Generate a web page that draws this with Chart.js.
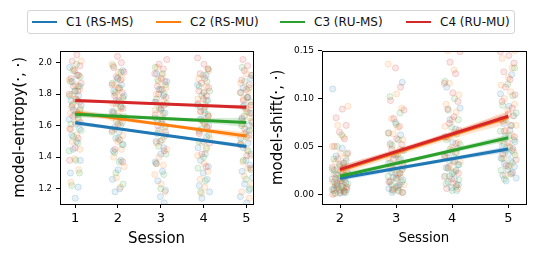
<!DOCTYPE html>
<html lang="en">
<head>
  <meta charset="UTF-8">
  <title>Model entropy and shift by session</title>
  <style>
    html, body {
      margin: 0;
      padding: 0;
      background: #fff;
    }
    body {
      width: 548px;
      height: 258px;
      position: relative;
      overflow: hidden;
      font-family: "DejaVu Sans", sans-serif;
    }
    #legend {
      position: absolute;
      left: 27px;
      top: 10px;
      width: 488px;
      height: 24px;
      box-sizing: border-box;
      border: 1px solid #d4d4d4;
      border-radius: 3px;
    }
    #legend .item {
      position: absolute;
      top: 0;
      height: 100%;
      display: flex;
      align-items: center;
      font-size: 12px;
      color: #111;
      white-space: nowrap;
    }
    #legend .swatch {
      display: inline-block;
      width: 25px;
      height: 2px;
      margin-right: 9px;
    }
    .panel {
      position: absolute;
      top: 40px;
    }
  </style>
</head>
<body>
  <div id="legend"></div>
  <div class="panel" style="left:0"><canvas id="entropyChart" width="265" height="218"></canvas></div>
  <div class="panel" style="left:265px"><canvas id="shiftChart" width="283" height="218"></canvas></div>

  <script src="https://cdn.jsdelivr.net/npm/chart.js"></script>
  <script>
    // conditions
    const conditions = ["C1 (RS-MS)", "C2 (RS-MU)", "C3 (RU-MS)", "C4 (RU-MU)"];
    const colors = ["#1f77b4", "#ff7f0e", "#2ca02c", "#d62728"];

    // horizontal jitter of the strip points (in session units)
    const jitter = [-0.13, 0.04, -0.07, 0.11, -0.01, 0.08, -0.10, 0.14, -0.04, 0.06,
                    -0.14, 0.01, 0.10, -0.08, 0.03, -0.05, 0.12, -0.11, 0.07, 0.00];

    // ---- left panel: model-entropy, sessions 1..5 ----
    const entropySessions = [1, 2, 3, 4, 5];
    const entropyTicksX = [1, 2, 3, 4, 5];
    const entropyTicksY = [1.2, 1.4, 1.6, 1.8, 2.0];

    const entropyC1 = [
      [1.97, 1.92, 1.88, 1.85, 1.82, 1.79, 1.76, 1.73, 1.70, 1.67, 1.64, 1.61, 1.58, 1.54, 1.50, 1.45, 1.38, 1.30, 1.21, 1.14],
      [1.95, 1.90, 1.86, 1.82, 1.79, 1.76, 1.72, 1.69, 1.66, 1.62, 1.59, 1.56, 1.52, 1.48, 1.44, 1.38, 1.32, 1.26, 1.20, 1.18],
      [1.93, 1.88, 1.83, 1.79, 1.75, 1.71, 1.68, 1.64, 1.61, 1.57, 1.54, 1.50, 1.46, 1.42, 1.37, 1.31, 1.25, 1.19, 1.15, 1.11],
      [1.92, 1.86, 1.81, 1.76, 1.72, 1.68, 1.64, 1.60, 1.57, 1.53, 1.50, 1.46, 1.42, 1.38, 1.34, 1.30, 1.26, 1.22, 1.18, 1.14],
      [1.90, 1.84, 1.78, 1.73, 1.68, 1.64, 1.60, 1.56, 1.52, 1.49, 1.46, 1.42, 1.38, 1.35, 1.31, 1.27, 1.23, 1.19, 1.15, 1.11]
    ];
    const entropyC2 = [
      [2.01, 1.96, 1.92, 1.89, 1.86, 1.83, 1.80, 1.77, 1.74, 1.71, 1.68, 1.65, 1.62, 1.58, 1.54, 1.50, 1.45, 1.39, 1.32, 1.24],
      [1.99, 1.94, 1.90, 1.86, 1.83, 1.80, 1.77, 1.74, 1.71, 1.68, 1.65, 1.62, 1.58, 1.54, 1.50, 1.45, 1.40, 1.34, 1.27, 1.21],
      [1.97, 1.92, 1.88, 1.84, 1.80, 1.76, 1.73, 1.70, 1.66, 1.63, 1.60, 1.56, 1.53, 1.49, 1.45, 1.40, 1.35, 1.29, 1.23, 1.18],
      [1.95, 1.90, 1.85, 1.81, 1.77, 1.73, 1.69, 1.66, 1.62, 1.59, 1.56, 1.52, 1.49, 1.45, 1.41, 1.36, 1.31, 1.26, 1.21, 1.17],
      [1.93, 1.87, 1.82, 1.77, 1.73, 1.69, 1.65, 1.61, 1.58, 1.55, 1.52, 1.48, 1.45, 1.41, 1.37, 1.33, 1.28, 1.23, 1.18, 1.14]
    ];
    const entropyC3 = [
      [1.99, 1.95, 1.91, 1.88, 1.85, 1.82, 1.79, 1.76, 1.73, 1.70, 1.67, 1.64, 1.61, 1.57, 1.53, 1.49, 1.44, 1.38, 1.30, 1.22],
      [1.98, 1.94, 1.90, 1.87, 1.84, 1.81, 1.78, 1.75, 1.72, 1.69, 1.66, 1.63, 1.60, 1.56, 1.52, 1.48, 1.43, 1.37, 1.30, 1.23],
      [1.97, 1.93, 1.89, 1.86, 1.83, 1.80, 1.77, 1.74, 1.71, 1.68, 1.65, 1.62, 1.59, 1.55, 1.51, 1.47, 1.42, 1.36, 1.29, 1.20],
      [1.96, 1.92, 1.88, 1.85, 1.82, 1.79, 1.76, 1.73, 1.70, 1.67, 1.64, 1.61, 1.58, 1.54, 1.50, 1.46, 1.40, 1.33, 1.25, 1.18],
      [1.97, 1.92, 1.88, 1.84, 1.81, 1.78, 1.75, 1.72, 1.69, 1.66, 1.63, 1.60, 1.57, 1.53, 1.49, 1.44, 1.38, 1.32, 1.26, 1.20]
    ];
    const entropyC4 = [
      [2.05, 2.01, 1.98, 1.95, 1.92, 1.90, 1.87, 1.85, 1.82, 1.80, 1.77, 1.75, 1.72, 1.69, 1.66, 1.62, 1.58, 1.52, 1.46, 1.38],
      [2.04, 2.00, 1.97, 1.94, 1.91, 1.89, 1.86, 1.84, 1.81, 1.79, 1.76, 1.74, 1.71, 1.68, 1.65, 1.61, 1.57, 1.51, 1.45, 1.37],
      [2.02, 1.99, 1.96, 1.93, 1.90, 1.88, 1.85, 1.83, 1.80, 1.78, 1.75, 1.73, 1.70, 1.67, 1.64, 1.60, 1.56, 1.50, 1.44, 1.36],
      [2.03, 1.99, 1.96, 1.93, 1.90, 1.87, 1.84, 1.82, 1.79, 1.77, 1.74, 1.72, 1.69, 1.66, 1.63, 1.59, 1.55, 1.49, 1.42, 1.34],
      [2.02, 1.98, 1.95, 1.92, 1.89, 1.86, 1.83, 1.81, 1.78, 1.76, 1.73, 1.71, 1.68, 1.65, 1.62, 1.58, 1.54, 1.48, 1.41, 1.33]
    ];

    // regression lines (value at first and last session) and confidence bands
    const entropyFit = [[1.618, 1.468], [1.683, 1.535], [1.673, 1.620], [1.760, 1.717]];
    const entropyBandLo = [
      [1.603, 1.572, 1.535, 1.496, 1.452],
      [1.660, 1.632, 1.599, 1.558, 1.510],
      [1.652, 1.646, 1.637, 1.618, 1.590],
      [1.748, 1.741, 1.733, 1.720, 1.703]
    ];
    const entropyBandHi = [
      [1.633, 1.590, 1.551, 1.516, 1.484],
      [1.706, 1.660, 1.619, 1.586, 1.560],
      [1.694, 1.674, 1.657, 1.648, 1.650],
      [1.772, 1.757, 1.745, 1.736, 1.731]
    ];

    // ---- right panel: model-shift, sessions 2..5 ----
    const shiftSessions = [2, 3, 4, 5];
    const shiftTicksX = [2, 3, 4, 5];
    const shiftTicksY = [0.00, 0.05, 0.10, 0.15];

    const shiftC1 = [
      [0.110, 0.048, 0.040, 0.035, 0.031, 0.028, 0.025, 0.022, 0.020, 0.018, 0.016, 0.014, 0.012, 0.010, 0.008, 0.007, 0.005, 0.004, 0.002, 0.001],
      [0.117, 0.075, 0.062, 0.053, 0.046, 0.041, 0.036, 0.032, 0.029, 0.026, 0.023, 0.020, 0.018, 0.015, 0.013, 0.010, 0.008, 0.006, 0.004, 0.002],
      [0.112, 0.090, 0.078, 0.068, 0.060, 0.054, 0.048, 0.043, 0.039, 0.035, 0.031, 0.028, 0.025, 0.022, 0.019, 0.016, 0.013, 0.010, 0.007, 0.004],
      [0.125, 0.105, 0.092, 0.082, 0.074, 0.067, 0.061, 0.055, 0.050, 0.046, 0.042, 0.038, 0.035, 0.032, 0.029, 0.026, 0.023, 0.020, 0.017, 0.014]
    ];
    const shiftC2 = [
      [0.092, 0.072, 0.060, 0.050, 0.043, 0.038, 0.034, 0.030, 0.027, 0.024, 0.021, 0.018, 0.016, 0.013, 0.011, 0.009, 0.007, 0.005, 0.003, 0.001],
      [0.136, 0.105, 0.090, 0.079, 0.070, 0.063, 0.057, 0.052, 0.047, 0.042, 0.038, 0.034, 0.030, 0.026, 0.022, 0.018, 0.014, 0.010, 0.006, 0.003],
      [0.150, 0.130, 0.116, 0.104, 0.094, 0.086, 0.078, 0.071, 0.065, 0.059, 0.054, 0.049, 0.044, 0.039, 0.034, 0.029, 0.024, 0.018, 0.012, 0.006],
      [0.150, 0.142, 0.132, 0.122, 0.114, 0.107, 0.100, 0.094, 0.088, 0.082, 0.077, 0.072, 0.067, 0.062, 0.056, 0.050, 0.044, 0.038, 0.030, 0.020]
    ];
    const shiftC3 = [
      [0.062, 0.050, 0.042, 0.037, 0.033, 0.029, 0.026, 0.023, 0.021, 0.019, 0.017, 0.015, 0.013, 0.011, 0.009, 0.007, 0.005, 0.004, 0.002, 0.001],
      [0.102, 0.085, 0.073, 0.064, 0.057, 0.051, 0.046, 0.041, 0.037, 0.033, 0.029, 0.026, 0.022, 0.019, 0.016, 0.013, 0.010, 0.007, 0.004, 0.002],
      [0.118, 0.100, 0.088, 0.078, 0.070, 0.063, 0.057, 0.052, 0.047, 0.043, 0.039, 0.035, 0.031, 0.027, 0.023, 0.019, 0.015, 0.011, 0.008, 0.004],
      [0.132, 0.115, 0.103, 0.093, 0.085, 0.078, 0.072, 0.066, 0.061, 0.057, 0.053, 0.049, 0.045, 0.041, 0.037, 0.033, 0.029, 0.025, 0.021, 0.016]
    ];
    const shiftC4 = [
      [0.089, 0.080, 0.072, 0.065, 0.058, 0.050, 0.043, 0.037, 0.032, 0.028, 0.024, 0.020, 0.017, 0.014, 0.011, 0.008, 0.006, 0.004, 0.002, 0.000],
      [0.132, 0.112, 0.098, 0.088, 0.079, 0.071, 0.064, 0.058, 0.052, 0.047, 0.042, 0.037, 0.032, 0.027, 0.022, 0.017, 0.013, 0.009, 0.005, 0.002],
      [0.149, 0.138, 0.126, 0.116, 0.106, 0.097, 0.089, 0.081, 0.074, 0.067, 0.060, 0.053, 0.046, 0.040, 0.034, 0.028, 0.022, 0.016, 0.010, 0.006],
      [0.149, 0.145, 0.137, 0.128, 0.120, 0.112, 0.104, 0.097, 0.090, 0.084, 0.078, 0.072, 0.066, 0.060, 0.054, 0.048, 0.042, 0.036, 0.030, 0.022]
    ];

    const shiftFit = [[0.0167, 0.0473], [0.0250, 0.0805], [0.0188, 0.0591], [0.0261, 0.0815]];
    const shiftBandLo = [
      [0.0137, 0.0249, 0.0351, 0.0440],
      [0.0200, 0.0400, 0.0580, 0.0740],
      [0.0155, 0.0300, 0.0435, 0.0555],
      [0.0225, 0.0420, 0.0602, 0.0775]
    ];
    const shiftBandHi = [
      [0.0197, 0.0289, 0.0391, 0.0506],
      [0.0300, 0.0470, 0.0660, 0.0870],
      [0.0221, 0.0344, 0.0479, 0.0627],
      [0.0297, 0.0472, 0.0658, 0.0855]
    ];

    // === helpers ===
    function rgba(hex, a) {
      const n = parseInt(hex.slice(1), 16);
      return `rgba(${(n >> 16) & 255}, ${(n >> 8) & 255}, ${n & 255}, ${a})`;
    }

    // legend (shared by both panels)
    const legendLeft = [4, 128, 252, 378];
    const legendEl = document.getElementById("legend");
    conditions.forEach((name, i) => {
      const item = document.createElement("div");
      item.className = "item";
      item.style.left = legendLeft[i] + "px";
      item.innerHTML = `<span class="swatch" style="background:${colors[i]}"></span>${name}`;
      legendEl.appendChild(item);
    });

    // black box round the plot area, like matplotlib spines
    const framePlugin = {
      id: "frame",
      afterDatasetsDraw(chart) {
        const { ctx, chartArea: a } = chart;
        ctx.save();
        ctx.strokeStyle = "#000";
        ctx.lineWidth = 1;
        ctx.strokeRect(Math.round(a.left) + 0.5, Math.round(a.top) + 0.5,
          Math.round(a.right - a.left), Math.round(a.bottom - a.top));
        ctx.restore();
      }
    };

    function buildDatasets(sessions, samples, fits, bandLo, bandHi) {
      const datasets = [];
      // jittered strip points
      samples.forEach((cond, c) => {
        const pts = [];
        cond.forEach((vals, s) => {
          vals.forEach((v, i) => {
            pts.push({ x: sessions[s] + jitter[(i + 7 * c + 3 * s) % jitter.length], y: v });
          });
        });
        datasets.push({
          type: "scatter",
          data: pts,
          pointRadius: 3.1,
          pointHoverRadius: 3.1,
          backgroundColor: rgba(colors[c], 0.11),
          borderColor: rgba(colors[c], 0.17),
          borderWidth: 1,
          order: 40 - c
        });
      });
      // confidence bands
      samples.forEach((cond, c) => {
        const loIndex = datasets.length;
        datasets.push({
          type: "line",
          data: sessions.map((s, k) => ({ x: s, y: bandLo[c][k] })),
          borderWidth: 0,
          pointRadius: 0,
          tension: 0.3,
          fill: false,
          order: 30 - c
        });
        datasets.push({
          type: "line",
          data: sessions.map((s, k) => ({ x: s, y: bandHi[c][k] })),
          borderWidth: 0,
          pointRadius: 0,
          tension: 0.3,
          backgroundColor: rgba(colors[c], 0.2),
          fill: { target: loIndex },
          order: 30 - c
        });
      });
      // regression lines
      samples.forEach((cond, c) => {
        datasets.push({
          type: "line",
          data: [
            { x: sessions[0], y: fits[c][0] },
            { x: sessions[sessions.length - 1], y: fits[c][1] }
          ],
          borderColor: colors[c],
          borderWidth: 3,
          pointRadius: 0,
          fill: false,
          order: 10 - c
        });
      });
      return datasets;
    }

    function makeChart(canvasId, cfg) {
      return new Chart(document.getElementById(canvasId), {
        type: "scatter",
        data: { datasets: cfg.datasets },
        plugins: [framePlugin],
        options: {
          responsive: false,
          animation: false,
          events: [],
          layout: { padding: { top: 10.7, right: cfg.rightPad, left: 0, bottom: 0 } },
          plugins: { legend: { display: false }, tooltip: { enabled: false } },
          scales: {
            x: {
              type: "linear",
              min: cfg.xMin,
              max: cfg.xMax,
              afterBuildTicks: (scale) => { scale.ticks = cfg.ticksX.map(v => ({ value: v })); },
              afterFit: (scale) => { scale.height = 54; },
              border: { display: false },
              grid: { drawOnChartArea: false, drawTicks: true, tickLength: 4, color: "#000" },
              ticks: {
                color: "#000",
                padding: 3,
                maxRotation: 0,
                font: { family: "DejaVu Sans", size: 13 },
                callback: v => String(v)
              },
              title: {
                display: true,
                text: "Session",
                color: "#000",
                font: { family: "DejaVu Sans", size: cfg.xTitleSize },
                padding: { top: 0, bottom: cfg.xTitlePad }
              }
            },
            y: {
              type: "linear",
              min: cfg.yMin,
              max: cfg.yMax,
              afterBuildTicks: (scale) => { scale.ticks = cfg.ticksY.map(v => ({ value: v })); },
              afterFit: (scale) => { scale.width = cfg.yWidth; },
              border: { display: false },
              grid: { drawOnChartArea: false, drawTicks: true, tickLength: 4, color: "#000" },
              ticks: {
                color: "#000",
                padding: 4,
                font: { family: "DejaVu Sans", size: cfg.yTickSize },
                callback: v => v.toFixed(cfg.yDigits)
              },
              title: {
                display: true,
                text: cfg.yTitle,
                color: "#000",
                font: { family: "DejaVu Sans", size: 15 },
                padding: { top: cfg.yTitlePad, bottom: 0 }
              }
            }
          }
        }
      });
    }

    makeChart("entropyChart", {
      datasets: buildDatasets(entropySessions, [entropyC1, entropyC2, entropyC3, entropyC4],
        entropyFit, entropyBandLo, entropyBandHi),
      xMin: 0.645, xMax: 5.155, ticksX: entropyTicksX,
      yMin: 1.103, yMax: 2.076, ticksY: entropyTicksY, yDigits: 1,
      yWidth: 60, rightPad: 12,
      yTickSize: 8.5, yTitle: "model-entropy(·, ·)", yTitlePad: 11,
      xTitleSize: 15, xTitlePad: 10
    });

    makeChart("shiftChart", {
      datasets: buildDatasets(shiftSessions, [shiftC1, shiftC2, shiftC3, shiftC4],
        shiftFit, shiftBandLo, shiftBandHi),
      xMin: 1.679, xMax: 5.31, ticksX: shiftTicksX,
      yMin: -0.0101, yMax: 0.15, ticksY: shiftTicksY, yDigits: 2,
      yWidth: 57, rightPad: 22.3,
      yTickSize: 9, yTitle: "model-shift(·, ·)", yTitlePad: 4.3,
      xTitleSize: 13.3, xTitlePad: 11
    });
  </script>
</body>
</html>
